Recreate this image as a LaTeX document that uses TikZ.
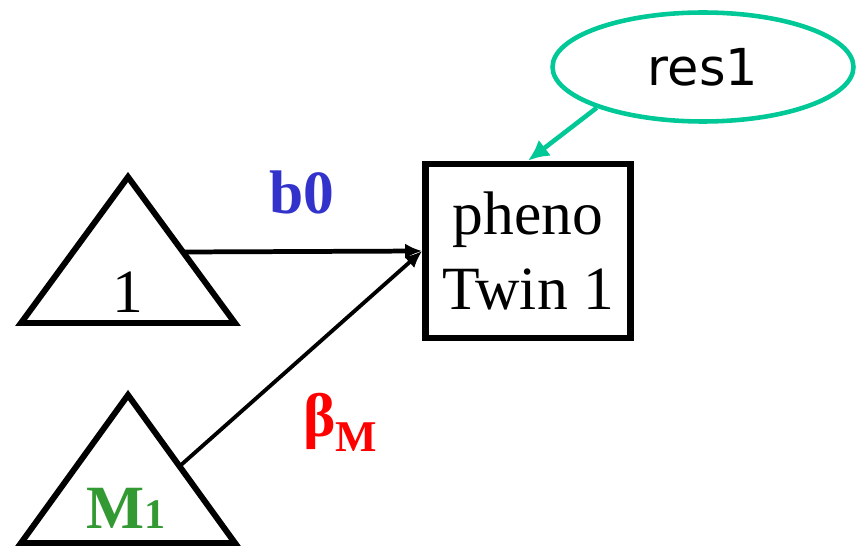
\documentclass[tikz,border=0pt]{standalone}
\usepackage{fontspec}
\setmainfont{Liberation Serif}
\newfontfamily\resfont{DejaVu Sans}
\usepackage{xcolor}
\usetikzlibrary{positioning,shapes.geometric,arrows.meta}
\definecolor{resteal}{RGB}{0,200,150}
\definecolor{bzeroblue}{RGB}{51,51,204}
\definecolor{mgreen}{RGB}{51,153,51}
\newcommand{\bigsz}{\fontsize{35}{43}\selectfont}

\begin{document}
\begin{tikzpicture}[x=0.02cm, y=0.02cm, >={Latex[length=0.34cm,width=0.3cm]},
  every node/.style={font=\bigsz},
  tri/.style={draw, line width=3.4pt, line join=miter},
  lbl/.style={anchor=base, font=\bigsz\bfseries}]
  \useasboundingbox (0,0) rectangle (864,548);
  % triangles
  \draw[tri] (21,225) -- (128,371) coordinate (onetop) -- (235,225) -- cycle;
  \draw[tri] (21,5) -- (128,153) coordinate (mtop) -- (235,5) -- cycle;
  \coordinate (oneout) at (183,296);
  \coordinate (mout) at (181,83);
  \node[anchor=base] (one) at (128,236) {1};
  \node[lbl, text=mgreen] (mone) at (126,20) {M{\fontsize{24}{24}\selectfont 1}};
  % box and residual
  \node[draw, line width=3.8pt, minimum width=4.1cm, minimum height=3.48cm,
    align=center] (pheno) at (528,297) {pheno\\Twin 1};
  \node[draw=resteal, ellipse, line width=2.6pt, inner sep=0pt, minimum width=6.02cm,
    minimum height=2.18cm, font=\resfont\fontsize{29}{29}\selectfont] (res) at (703,481) {res1};
  \draw[-{Latex[length=0.42cm,width=0.4cm]}, line width=2.6pt, resteal] (res.201) -- (pheno.north);
  \draw[->, line width=2.7pt] (oneout) -- (pheno.west);
  \draw[->, line width=2.2pt] (mout) -- (pheno.west);
  % path labels
  \node[lbl, text=bzeroblue] (bzero) at (302,335) {b0};
  \node[lbl, text=red] (betam) at (340,112) {β\raisebox{-9pt}{\fontsize{25}{25}\selectfont M}};
\end{tikzpicture}
\end{document}
